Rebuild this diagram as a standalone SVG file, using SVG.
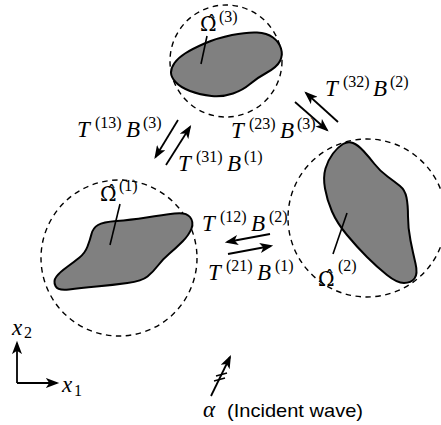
<svg xmlns="http://www.w3.org/2000/svg" width="441" height="425" viewBox="0 0 441 425">
<style>
.circ{fill:none;stroke:#000;stroke-width:1.4;stroke-dasharray:5.5,4.5}
.blob{fill:#808080;stroke:#000;stroke-width:2;stroke-linejoin:round}
.lead{stroke:#000;stroke-width:1.6;fill:none}
.arr{stroke:#000;stroke-width:1.8;fill:none;marker-end:url(#ah)}
.m{font-family:"Liberation Serif","DejaVu Serif",serif;font-size:23px;fill:#000}
.om{font-family:"DejaVu Serif",serif;font-size:20px;fill:#000}
.it{font-style:italic}
.s{font-size:16px;font-style:normal}
.s2{font-family:"Liberation Serif",serif;font-size:16px}
.sans{font-family:"Liberation Sans",Arial,sans-serif;font-size:19px;fill:#000}
</style>
<defs>
<marker id="ah" markerUnits="userSpaceOnUse" markerWidth="14" markerHeight="10" viewBox="0 0 12 9" refX="10" refY="4.5" orient="auto">
<path d="M0,0 L12,4.5 L0,9 L3,4.5 z" fill="#000"/>
</marker>
</defs>

<g id="region3">
<circle class="circ" cx="226" cy="61" r="56"/>
<path class="blob" d="M 174.5,63 Q 178,58 185,53.5 Q 192,49 204.5,43.5 Q 217,38 232,35 Q 247,32 257,32.5 Q 267,33 273,37.5 Q 279,42 281,48.5 Q 283,55 280,61 Q 277,67 267,72.5 Q 257,78 250,84 Q 243,90 233,93.5 Q 223,97 211.5,96 Q 200,95 190,91 Q 180,87 175.5,82 Q 171,77 171,72.5 Q 171,68 174.5,63 Z"/>
<line class="lead" x1="207" y1="36" x2="201" y2="64"/>
<text class="om" x="200" y="31">Ω̂<tspan class="s2" x="219" y="22">(3)</tspan></text>
</g>

<g id="region1">
<circle class="circ" cx="119" cy="258" r="78"/>
<path class="blob" d="M 56.5,276.5 Q 60,272 67,267 Q 74,262 79.5,257.5 Q 85,253 87.5,246.5 Q 90,240 91.5,234 Q 93,228 98,225 Q 103,222 116.5,221 Q 130,220 146.5,217.5 Q 163,215 174.5,213.5 Q 186,212 190,217 Q 194,222 191.5,228.5 Q 189,235 182.5,241.5 Q 176,248 169.5,253.5 Q 163,259 158,265.5 Q 153,272 147.5,276.5 Q 142,281 127.5,283 Q 113,285 96.5,286.5 Q 80,288 69,289.5 Q 58,291 55.5,286 Q 53,281 56.5,276.5 Z"/>
<line class="lead" x1="120" y1="204" x2="110" y2="245"/>
<text class="om" x="100" y="201">Ω̂<tspan class="s2" x="119" y="191">(1)</tspan></text>
</g>

<g id="region2">
<circle class="circ" cx="367" cy="218" r="79"/>
<path class="blob" d="M 353,143 Q 358,145 363.5,151 Q 369,157 374.5,164 Q 380,171 387.5,176.5 Q 395,182 400,186 Q 405,190 406.5,197.5 Q 408,205 408,216.5 Q 408,228 410.5,240.5 Q 413,253 415.5,263.5 Q 418,274 414.5,278.5 Q 411,283 404,283 Q 397,283 387,275 Q 377,267 367,257 Q 357,247 347,235 Q 337,223 332,211.5 Q 327,200 325,188.5 Q 323,177 325.5,168.5 Q 328,160 333,153.5 Q 338,147 343,144 Q 348,141 353,143 Z"/>
<line class="lead" x1="347" y1="213" x2="333" y2="254"/>
<text class="om" x="318" y="286">Ω̂<tspan class="s2" x="338" y="271">(2)</tspan></text>
</g>

<g id="connectors">
<line class="arr" x1="178" y1="120" x2="155.5" y2="157"/>
<line class="arr" x1="166" y1="165" x2="190" y2="127"/>
<line class="arr" x1="338" y1="122" x2="306" y2="93"/>
<line class="arr" x1="295" y1="102" x2="327" y2="130"/>
<line class="arr" x1="270" y1="234" x2="227" y2="242"/>
<line class="arr" x1="228" y1="254" x2="271" y2="246"/>
<line class="arr" x1="17" y1="383" x2="17" y2="343"/>
<line class="arr" x1="17" y1="383" x2="57" y2="383"/>
<line class="arr" x1="211" y1="396" x2="230" y2="357"/>
<line class="lead" x1="214" y1="381" x2="225" y2="378"/>
<line class="lead" x1="216" y1="376" x2="227" y2="373"/>
</g>

<g id="labels">
<text class="m" x="77" y="137"><tspan class="it">T</tspan><tspan class="s" x="95" y="128">(13)</tspan><tspan class="it" x="126" y="137">B</tspan><tspan class="s" x="143" y="128">(3)</tspan></text>
<text class="m" x="178" y="171"><tspan class="it">T</tspan><tspan class="s" x="196" y="162">(31)</tspan><tspan class="it" x="227" y="171">B</tspan><tspan class="s" x="244" y="162">(1)</tspan></text>
<text class="m" x="231" y="138"><tspan class="it">T</tspan><tspan class="s" x="249" y="129">(23)</tspan><tspan class="it" x="280" y="138">B</tspan><tspan class="s" x="297" y="129">(3)</tspan></text>
<text class="m" x="325" y="96"><tspan class="it">T</tspan><tspan class="s" x="343" y="87">(32)</tspan><tspan class="it" x="373" y="96">B</tspan><tspan class="s" x="390" y="87">(2)</tspan></text>
<text class="m" x="202" y="231"><tspan class="it">T</tspan><tspan class="s" x="220" y="222">(12)</tspan><tspan class="it" x="251" y="231">B</tspan><tspan class="s" x="269" y="222">(2)</tspan></text>
<text class="m" x="208" y="280"><tspan class="it">T</tspan><tspan class="s" x="226" y="271">(21)</tspan><tspan class="it" x="257" y="280">B</tspan><tspan class="s" x="275" y="271">(1)</tspan></text>
<text class="m it" x="12" y="335">x<tspan class="s" x="24" y="338">2</tspan></text>
<text class="m it" x="62" y="392">x<tspan class="s" x="74" y="396">1</tspan></text>
<text class="m it" x="203" y="417">α</text>
<text class="sans" x="227" y="417" textLength="136" lengthAdjust="spacingAndGlyphs">(Incident wave)</text>
</g>
</svg>
